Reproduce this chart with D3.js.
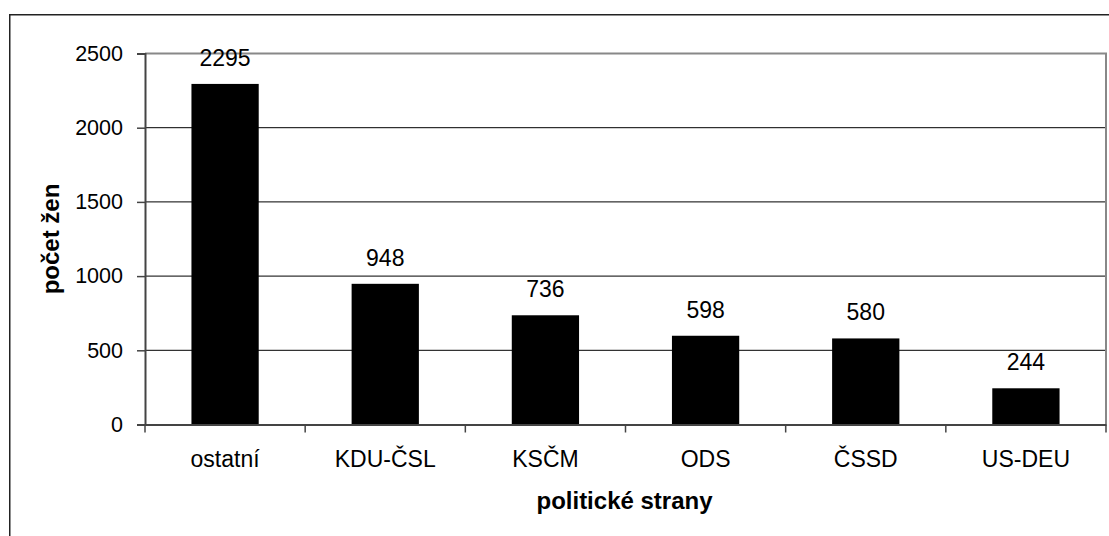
<!DOCTYPE html>
<html><head><meta charset="utf-8">
<script src="https://cdn.jsdelivr.net/npm/d3@7"></script>
<style>body{margin:0;background:#fff}svg{display:block}text{font-family:"Liberation Sans",Arial,sans-serif;fill:#000}</style>
</head><body><svg id="c" width="1109" height="536"></svg>
<script>
const categories = ["ostatní","KDU-ČSL","KSČM","ODS","ČSSD","US-DEU"];
const values = [2295,948,736,598,580,244];
const yTicks = [0,500,1000,1500,2000,2500];
const yTitle = "počet žen";
const xTitle = "politické strany";

const svg = d3.select("#c");
const L = 145, R = 1106, T = 53.5, B = 424.5;
svg.append("rect").attr("x",9.75).attr("y",14.75).attr("width",1120).attr("height",540)
  .attr("fill","#fff").attr("stroke","#222").attr("stroke-width",1.5);

const x = d3.scaleBand().domain(categories).range([L,R]).paddingInner(0.58).paddingOuter(0.29);
const xb = d3.scaleBand().domain(categories).range([L,R]);
const y = d3.scaleLinear().domain([0,2500]).range([B,T]);

// gridlines
svg.append("g").selectAll("line").data(yTicks.filter(d=>d>0 && d<2500)).join("line")
  .attr("x1",L).attr("x2",R).attr("y1",d=>y(d)).attr("y2",d=>y(d))
  .attr("stroke","#000").attr("stroke-width",1);
// plot border top/right gray
svg.append("path").attr("d",`M${L},${y(2500)}H${R}V${B}`).attr("fill","none").attr("stroke","#888").attr("stroke-width",2);

// bars
svg.append("g").selectAll("rect").data(values).join("rect")
  .attr("x",(d,i)=>x(categories[i])).attr("width",x.bandwidth())
  .attr("y",d=>y(d)).attr("height",d=>B-y(d)).attr("fill","#000");

// value labels
svg.append("g").selectAll("text").data(values).join("text")
  .attr("x",(d,i)=>x(categories[i])+x.bandwidth()/2).attr("y",d=>y(d)-18)
  .attr("text-anchor","middle").attr("font-size",23).text(d=>d);

// y axis
const ya = d3.axisLeft(y).tickValues(yTicks).tickFormat(d3.format("d")).tickSize(8).tickPadding(14);
const gy = svg.append("g").attr("transform",`translate(${L},0)`).call(ya);
gy.select(".domain").attr("stroke","#444").attr("stroke-width",2);
gy.selectAll(".tick line").attr("stroke","#444").attr("stroke-width",1.5);
gy.selectAll(".tick text").attr("font-size",21.5).attr("font-family","Liberation Sans, Arial, sans-serif").attr("fill","#000");

// x axis
const xa = d3.axisBottom(xb).tickSize(0).tickPadding(0);
const gx = svg.append("g").attr("transform",`translate(0,${B})`).call(xa);
gx.select(".domain").attr("stroke","#444").attr("stroke-width",2);
gx.selectAll(".tick text").attr("font-size",23).attr("font-family","Liberation Sans, Arial, sans-serif").attr("fill","#000").attr("dy",null).attr("y",42);
// category boundary ticks
svg.append("g").selectAll("line").data(categories.concat(["end"])).join("line")
  .attr("x1",(d,i)=> i<categories.length ? xb(d) : R).attr("x2",(d,i)=> i<categories.length ? xb(d) : R)
  .attr("y1",B).attr("y2",B+8).attr("stroke","#444").attr("stroke-width",1.5);

// titles
svg.append("text").attr("transform",`translate(59,${(T+B)/2}) rotate(-90)`).attr("text-anchor","middle")
  .attr("font-size",24).attr("font-weight","bold").text(yTitle);
svg.append("text").attr("x",(L+R)/2 - 1).attr("y",509).attr("text-anchor","middle")
  .attr("font-size",24).attr("font-weight","bold").text(xTitle);
</script></body></html>
